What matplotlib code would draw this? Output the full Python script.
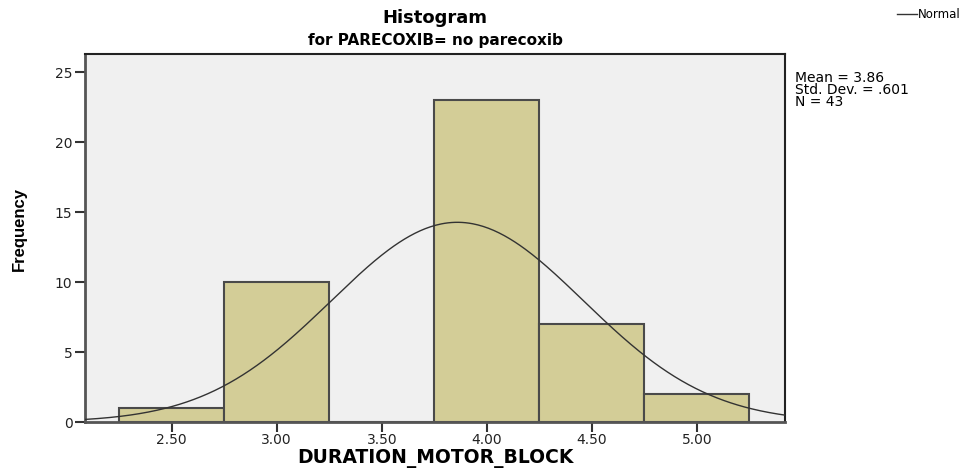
import numpy as np
import matplotlib
matplotlib.use("Agg")
import matplotlib.pyplot as plt

bin_centers = [2.50, 3.00, 3.50, 4.00, 4.50, 5.00]
frecuencias = [1, 10, 0, 23, 7, 2]
bin_width = 0.5
media = 3.86
desv = 0.601
n = 43
xticks = [2.50, 3.00, 3.50, 4.00, 4.50, 5.00]
yticks = [0, 5, 10, 15, 20, 25]

fig = plt.figure(figsize=(9.59, 4.73), dpi=100)
ax = fig.add_axes([85 / 959, 51 / 473, 700 / 959, 368 / 473])
ax.set_facecolor("#f0f0f0")

ax.bar(bin_centers, frecuencias, width=bin_width, color="#d3cd97",
       edgecolor="#4a4a4a", linewidth=1.5, zorder=2)

xs = np.linspace(2.087, 5.42, 400)
ys = n * bin_width / (desv * np.sqrt(2 * np.pi)) * np.exp(-0.5 * ((xs - media) / desv) ** 2)
ax.plot(xs, ys, color="#333333", linewidth=1.0, zorder=3)

ax.set_xlim(2.087, 5.42)
ax.set_ylim(0, 26.3)
ax.set_xticks(xticks)
ax.set_xticklabels([f"{t:.2f}" for t in xticks], fontsize=10)
ax.set_yticks(yticks)
ax.set_yticklabels([str(t) for t in yticks], fontsize=10)
ax.tick_params(direction="out", length=7, width=1.5, color="#333333", labelcolor="#222222")
ax.tick_params(axis="x", pad=1)
ax.tick_params(axis="y", pad=2)

for s in ["left", "bottom"]:
    ax.spines[s].set_color("#555555")
    ax.spines[s].set_linewidth(2)
for s in ["top", "right"]:
    ax.spines[s].set_color("#222222")
    ax.spines[s].set_linewidth(1.5)

fig.text(435 / 959, 1 - 458 / 473, "DURATION_MOTOR_BLOCK", ha="center", va="center",
         fontsize=13.5, fontweight="bold")
fig.text(19 / 959, 1 - 229 / 473, "Frequency", ha="center", va="center", rotation=90,
         fontsize=12, fontweight="bold", family=["Liberation Sans", "DejaVu Sans"])

fig.text(435 / 959, 1 - 18 / 473, "Histogram", ha="center", va="center",
         fontsize=13, fontweight="bold")
fig.text(435 / 959, 1 - 41 / 473, "for PARECOXIB= no parecoxib", ha="center", va="center",
         fontsize=11, fontweight="bold")

fig.text(795 / 959, 1 - 90 / 473,
         f"Mean = {media:.2f}\nStd. Dev. = .{int(round(desv * 1000))}\nN = {n}",
         ha="left", va="center", fontsize=10, linespacing=0.85)

fig.add_artist(plt.Line2D([897 / 959, 917 / 959], [1 - 14 / 473, 1 - 14 / 473],
                          color="#333333", linewidth=1.0))
fig.text(918 / 959, 1 - 14 / 473, "Normal", ha="left", va="center", fontsize=8.5)

fig.savefig("out.png", dpi=100)
